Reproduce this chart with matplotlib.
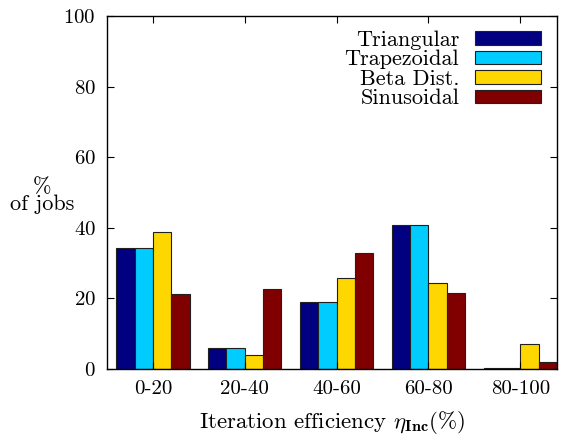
import matplotlib
matplotlib.use("Agg")
import matplotlib.pyplot as plt
import numpy as np

categories = ["0-20", "20-40", "40-60", "60-80", "80-100"]
series_names = ["Triangular", "Trapezoidal", "Beta Dist.", "Sinusoidal"]
triangular = [34.4, 5.9, 19.0, 40.7, 0.3]
trapezoidal = [34.4, 5.9, 19.0, 40.7, 0.3]
beta = [38.8, 4.0, 25.9, 24.5, 7.0]
sinusoidal = [21.2, 22.6, 32.8, 21.5, 2.0]
colors = ["#000080", "#00CCFF", "#FFD700", "#800000"]
yticks = [0, 20, 40, 60, 80, 100]

plt.rcParams["font.family"] = "serif"
plt.rcParams["font.serif"] = ["cmr10"]
plt.rcParams["mathtext.fontset"] = "cm"
plt.rcParams["axes.formatter.use_mathtext"] = True

fig = plt.figure(figsize=(5.64, 4.41), dpi=100)
ax = fig.add_axes([107 / 564, 1 - 369 / 441, 450 / 564, 353 / 441])

x = np.arange(len(categories))
w = 0.2
data = [triangular, trapezoidal, beta, sinusoidal]
for i, (name, vals, c) in enumerate(zip(series_names, data, colors)):
    ax.bar(x - 0.3 + i * w, vals, width=w, color=c, edgecolor="#202020",
           linewidth=0.8, label=name)

ax.set_xlim(-0.5, 4.4)
ax.set_ylim(0, 100)
ax.set_yticks(yticks)
ax.set_xticks(x)
ax.set_xticklabels(categories)
ax.tick_params(axis="both", direction="in", top=True, right=True,
               labelsize=15, length=5, width=0.8, pad=8)
for s in ax.spines.values():
    s.set_linewidth(1.0)

ax.set_xlabel(r"Iteration efficiency $\eta_{\mathbf{Inc}}$(%)", fontsize=16.5, labelpad=8)
ax.text(-0.144, 0.49, "%\nof jobs", transform=ax.transAxes, fontsize=16,
        ha="center", va="center", linespacing=0.85)

leg = ax.legend(loc="upper right", markerfirst=False, frameon=False,
                fontsize=16, handlelength=3.0, handleheight=0.55,
                labelspacing=0.0, handletextpad=0.7,
                borderaxespad=0.0, bbox_to_anchor=(0.985, 0.985))
for t in leg.get_texts():
    t.set_ha("right")

fig.savefig("out.png", dpi=100)
